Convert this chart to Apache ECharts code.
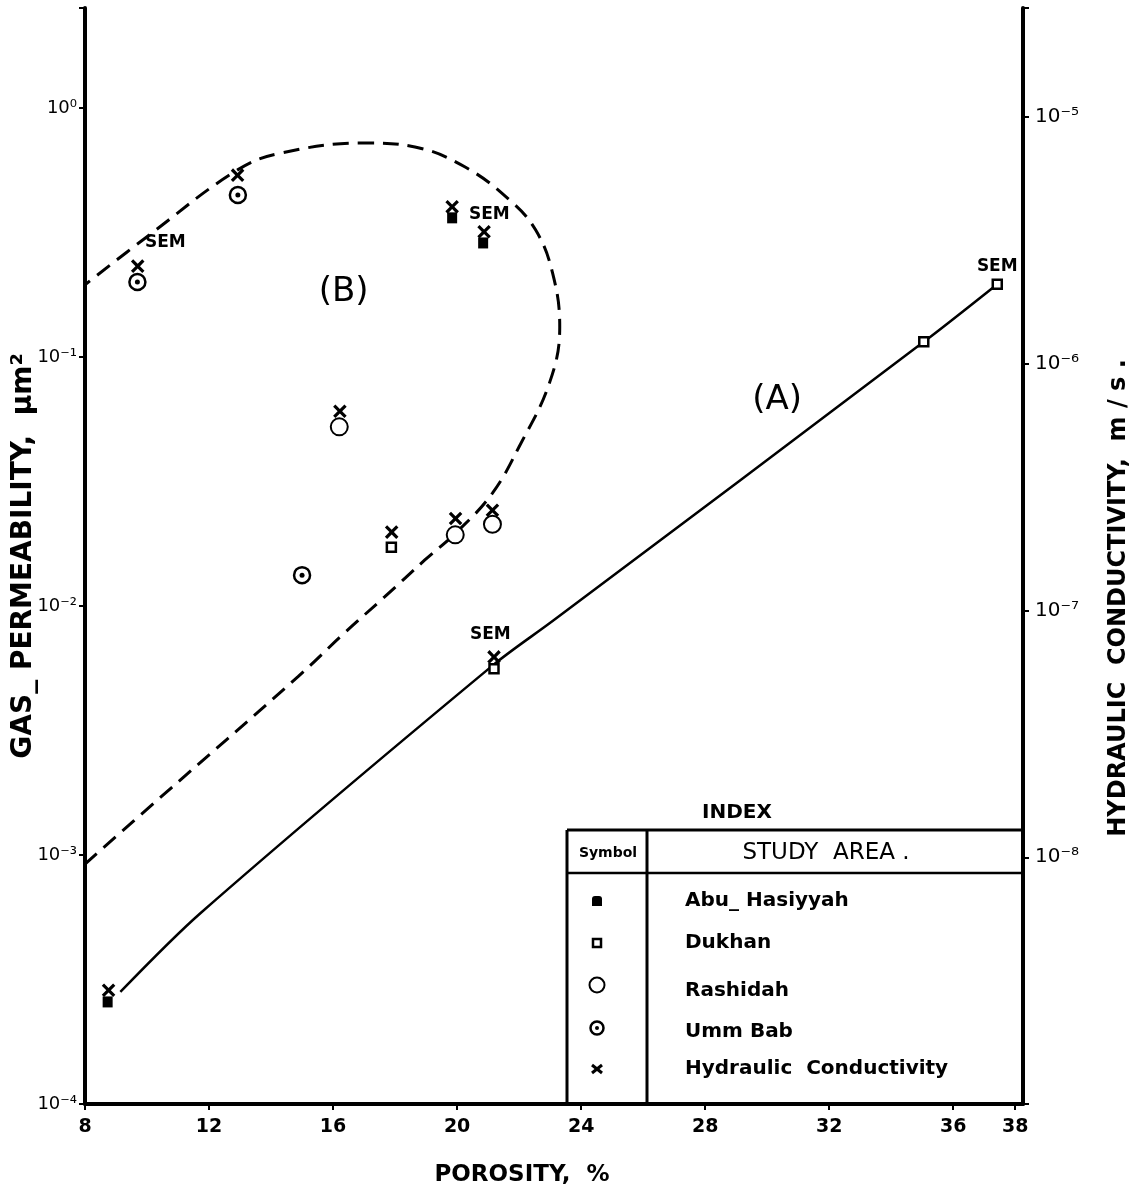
<!DOCTYPE html>
<html>
<head>
<meta charset="utf-8">
<script src="https://cdn.jsdelivr.net/npm/echarts@6/dist/echarts.min.js"></script>
<style>
html, body { margin: 0; padding: 0; background: #fff; }
#chart { width: 1141px; height: 1191px; }
</style>
</head>
<body>
<div id="chart"></div>
<script>
// porosity (%) against gas permeability (um^2), left axis
const abuHasiyyah = [[8.73, 2.57e-4], [19.84, 0.362], [20.84, 0.287]];
const dukhan = [[17.88, 0.0172], [21.19, 0.0056], [35.05, 0.115], [37.42, 0.196]];
const rashidah = [[16.2, 0.0524], [19.94, 0.0193], [21.14, 0.0213]];
const ummBab = [[9.69, 0.2], [12.93, 0.447], [15.0, 0.0133]];
// porosity against hydraulic conductivity (m/s), right axis
const hydraulic = [[8.76, 2.89e-9], [9.7, 2.49e-6], [12.92, 5.82e-6], [16.22, 6.43e-7], [17.89, 2.08e-7],
  [19.84, 4.33e-6], [19.95, 2.36e-7], [20.87, 3.43e-6], [21.14, 2.55e-7], [21.19, 6.49e-8]];
// trend (A)
const lineA = [[9.14, 2.82e-4], [11.73, 5.85e-4], [21.17, 5.8e-3], [23.08, 8.7e-3],
  [35.05, 0.115], [37.42, 0.196]];
// envelope (B)
const curveB = [[8.0, 9.2e-4], [10.33, 1.66e-3], [14.87, 5.2e-3], [16.37, 7.8e-3], [17.67, 0.0109],
  [18.96, 0.0153], [20.06, 0.0202], [21.14, 0.0284], [22.0, 0.0436], [22.98, 0.0787], [23.31, 0.132],
  [23.08, 0.217], [22.53, 0.324], [21.69, 0.427], [20.26, 0.579], [18.64, 0.697], [17.02, 0.723],
  [14.32, 0.659], [12.92, 0.564], [10.0, 0.304], [8.0, 0.195]];
// text notes placed in data space
const notes = [
  { name: 'SEM', value: [10.59, 0.287] },
  { name: 'SEM', value: [21.04, 0.372] },
  { name: 'SEM', value: [21.07, 7.65e-3] },
  { name: 'SEM', value: [37.42, 0.23] },
  { name: '(A)', value: [30.32, 0.0672] },
  { name: '(B)', value: [16.34, 0.1824] }
];
const xTicks = [8, 12, 16, 20, 24, 28, 32, 36, 38];

const FONT = 'DejaVu Sans';
const SUP = { '-': '\u207B', '0': '\u2070', '1': '\u00B9', '2': '\u00B2', '3': '\u00B3', '4': '\u2074',
  '5': '\u2075', '6': '\u2076', '7': '\u2077', '8': '\u2078', '9': '\u2079' };

function powLabel(v, skipBelow) {
  const e = Math.log10(v);
  const r = Math.round(e);
  if (Math.abs(e - r) > 1e-6) return '';
  if (skipBelow !== undefined && r < skipBelow) return '';
  return '10' + String(r).split('').map(c => SUP[c]).join('');
}

const black = '#000';
const myChart = echarts.init(document.getElementById('chart'));

const tbl = { left: 567, right: 1023, div: 647, top: 830, head: 873, bottom: 1104 };
const rowText = ['Abu_ Hasiyyah', 'Dukhan', 'Rashidah', 'Umm Bab', 'Hydraulic  Conductivity'];
const rowY = [901, 943, 991, 1032, 1069];
const symX = 597;

function tline(x1, y1, x2, y2, w) {
  return { type: 'line', shape: { x1: x1, y1: y1, x2: x2, y2: y2 }, style: { stroke: black, lineWidth: w } };
}
function ttext(x, y, text, font, align) {
  return { type: 'text', x: x, y: y,
    style: { text: text, fill: black, font: font, textAlign: align, textVerticalAlign: 'middle', align: align, verticalAlign: 'middle' } };
}

const graphics = [
  tline(tbl.left, tbl.top, tbl.right, tbl.top, 3),
  tline(tbl.left, tbl.head, tbl.right, tbl.head, 2.5),
  tline(tbl.left, tbl.top, tbl.left, tbl.bottom, 3),
  tline(tbl.div, tbl.top, tbl.div, tbl.bottom, 3),
  ttext(737, 813, 'INDEX', 'bold 20px ' + FONT, 'center'),
  ttext(608, 853, 'Symbol', 'bold 14px ' + FONT, 'center'),
  ttext(826, 853, 'STUDY  AREA .', '23px ' + FONT, 'center'),
  // index symbols
  { type: 'rect', shape: { x: symX - 5, y: rowY[0] - 5, width: 10, height: 10, r: [3, 3, 0, 0] }, style: { fill: black } },
  { type: 'rect', shape: { x: symX - 4, y: rowY[1] - 4, width: 8, height: 8 }, style: { fill: '#fff', stroke: black, lineWidth: 2.5 } },
  { type: 'circle', shape: { cx: symX, cy: rowY[2] - 6, r: 7.5 }, style: { fill: '#fff', stroke: black, lineWidth: 2 } },
  { type: 'circle', shape: { cx: symX, cy: rowY[3] - 4, r: 6.5 }, style: { fill: '#fff', stroke: black, lineWidth: 2.5 } },
  { type: 'circle', shape: { cx: symX, cy: rowY[3] - 4, r: 2 }, style: { fill: black } },
  tline(symX - 5, rowY[4] - 4, symX + 5, rowY[4] + 4, 3),
  tline(symX + 5, rowY[4] - 4, symX - 5, rowY[4] + 4, 3)
];
rowText.forEach((t, i) => graphics.push(ttext(685, rowY[i], t, 'bold 20px ' + FONT, 'left')));

const xPath = 'path://M-0.8,-4L0.8,-4L0.8,-0.8L4,-0.8L4,0.8L0.8,0.8L0.8,4L-0.8,4L-0.8,0.8L-4,0.8L-4,-0.8L-0.8,-0.8Z';

const options = {
  animation: false,
  backgroundColor: '#fff',
  grid: { left: 85, right: 118, top: 8, bottom: 87, outerBoundsMode: 'none', containLabel: false },
  xAxis: {
    type: 'value',
    min: 8,
    max: 38.25,
    name: 'POROSITY,  %',
    nameLocation: 'middle',
    nameGap: 60,
    nameMoveOverlap: false,
    nameTextStyle: { color: black, fontFamily: FONT, fontWeight: 'bold', fontSize: 23, padding: [0, 64, 0, 0] },
    axisLine: { lineStyle: { color: black, width: 4 } },
    axisTick: { customValues: xTicks, length: 6, lineStyle: { color: black, width: 2 } },
    axisLabel: { customValues: xTicks, color: black, fontFamily: FONT, fontWeight: 'bold', fontSize: 19, margin: 14 },
    splitLine: { show: false }
  },
  yAxis: [
    {
      type: 'log',
      logBase: 10,
      min: 1e-4,
      max: 2.52,
      position: 'left',
      name: 'GAS_ PERMEABILITY,  \u03BCm\u00B2',
      nameLocation: 'middle',
      nameRotate: 90,
      nameGap: 47,
      nameMoveOverlap: false,
      nameTextStyle: { color: black, fontFamily: FONT, fontWeight: 'bold', fontSize: 28 },
      axisLine: { lineStyle: { color: black, width: 4 } },
      axisTick: { length: 6, lineStyle: { color: black, width: 2 } },
      axisLabel: { formatter: v => powLabel(v), color: black, fontFamily: FONT, fontSize: 18, margin: 8 },
      splitLine: { show: false },
      minorTick: { show: false }
    },
    {
      type: 'log',
      logBase: 10,
      min: 1e-9,
      max: 2.77e-5,
      position: 'right',
      name: 'HYDRAULIC  CONDUCTIVITY,  m / s .',
      nameLocation: 'middle',
      nameRotate: 90,
      nameGap: 84,
      nameMoveOverlap: false,
      nameTextStyle: { color: black, fontFamily: FONT, fontWeight: 'bold', fontSize: 24, padding: [0, 84, 0, 0] },
      axisLine: { lineStyle: { color: black, width: 4 } },
      axisTick: { length: 6, lineStyle: { color: black, width: 2 } },
      axisLabel: { formatter: v => powLabel(v, -8), color: black, fontFamily: FONT, fontSize: 20, margin: 12 },
      splitLine: { show: false }
    }
  ],
  series: [
    {
      name: 'A', type: 'line', data: lineA, smooth: 0.3, symbol: 'none', yAxisIndex: 0,
      lineStyle: { color: black, width: 2.5 }, z: 2
    },
    {
      name: 'B', type: 'line', data: curveB, smooth: 0.4, symbol: 'none', yAxisIndex: 0,
      lineStyle: { color: black, width: 3, type: [16, 9] }, z: 2
    },
    {
      name: 'Abu_ Hasiyyah', type: 'scatter', data: abuHasiyyah, symbol: 'rect', symbolSize: [10, 11],
      itemStyle: { color: black, opacity: 1 }, z: 3
    },
    {
      name: 'Dukhan', type: 'scatter', data: dukhan, symbol: 'rect', symbolSize: 9,
      itemStyle: { color: '#fff', borderColor: black, borderWidth: 2.5, opacity: 1 }, z: 3
    },
    {
      name: 'Rashidah', type: 'scatter', data: rashidah, symbol: 'circle', symbolSize: 17,
      itemStyle: { color: '#fff', borderColor: black, borderWidth: 2, opacity: 1 }, z: 3
    },
    {
      name: 'Umm Bab', type: 'scatter', data: ummBab, symbol: 'circle', symbolSize: 16,
      itemStyle: { color: '#fff', borderColor: black, borderWidth: 2.5, opacity: 1 }, z: 3
    },
    {
      name: 'Umm Bab dot', type: 'scatter', data: ummBab, symbol: 'circle', symbolSize: 5,
      itemStyle: { color: black, opacity: 1 }, z: 4
    },
    {
      name: 'Hydraulic Conductivity', type: 'scatter', data: hydraulic, yAxisIndex: 1,
      symbol: xPath, symbolRotate: 45, symbolSize: 16, itemStyle: { color: black, opacity: 1 }, z: 5
    },
    {
      name: 'notes', type: 'scatter', data: notes, symbolSize: 1,
      itemStyle: { color: 'rgba(0,0,0,0)', opacity: 1 },
      label: {
        show: true, position: 'inside', formatter: '{b}', color: black, textBorderWidth: 0,
        fontFamily: FONT, fontSize: 17, fontWeight: 'bold'
      },
      z: 6
    }
  ],
  graphic: graphics
};
// bigger type for the (A) and (B) marks
options.series[8].data = notes.map(n => n.name === 'SEM' ? n : Object.assign({}, n, {
  label: { fontSize: 34, fontWeight: 'normal', color: black }
}));

myChart.setOption(options);
</script>
</body>
</html>
